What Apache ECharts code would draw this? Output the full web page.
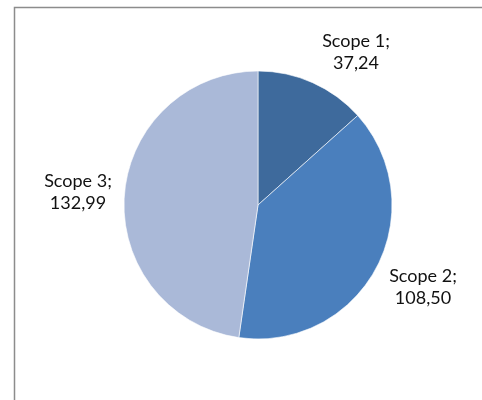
<!DOCTYPE html>
<html>
<head>
<meta charset="utf-8">
<script src="https://cdn.jsdelivr.net/npm/echarts@6/dist/echarts.min.js"></script>
<style>
html,body{margin:0;padding:0;background:#fff;}
#chart{width:482px;height:400px;}
</style>
</head>
<body>
<div id="chart"></div>
<script>
const categories = ['Scope 1', 'Scope 2', 'Scope 3'];
const values = [37.24, 108.50, 132.99];
const valueLabels = ['37,24', '108,50', '132,99'];
const colors = ['#3E6A9C', '#4A7FBD', '#AAB9D8'];
const labelPositions = [[356, 52], [423, 287], [78, 192]];

const chart = echarts.init(document.getElementById('chart'), null, {renderer: 'canvas'});
chart.setOption({
  animation: false,
  backgroundColor: '#ffffff',
  graphic: [{
    type: 'rect',
    shape: {x: 14.5, y: 7.5, width: 700, height: 700},
    style: {fill: 'none', stroke: '#8c8c8c', lineWidth: 1.5},
    z: 0
  }],
  series: [{
    type: 'pie',
    center: [258, 205],
    radius: 134,
    startAngle: 90,
    clockwise: true,
    data: categories.map((c, i) => ({name: c, value: values[i], itemStyle: {color: colors[i]}})),
    itemStyle: {borderColor: '#ffffff', borderWidth: 0.6},
    label: {
      show: true,
      position: 'outside',
      overflow: 'none',
      formatter: p => p.name + ';\n' + valueLabels[p.dataIndex],
      fontFamily: 'Lato, "Noto Sans", sans-serif',
      fontSize: 18,
      lineHeight: 22,
      color: '#111',
      align: 'center'
    },
    labelLine: {show: false},
    labelLayout: p => ({
      x: labelPositions[p.dataIndex][0],
      y: labelPositions[p.dataIndex][1],
      align: 'center',
      verticalAlign: 'middle'
    }),
    emphasis: {disabled: true}
  }]
});
</script>
</body>
</html>
